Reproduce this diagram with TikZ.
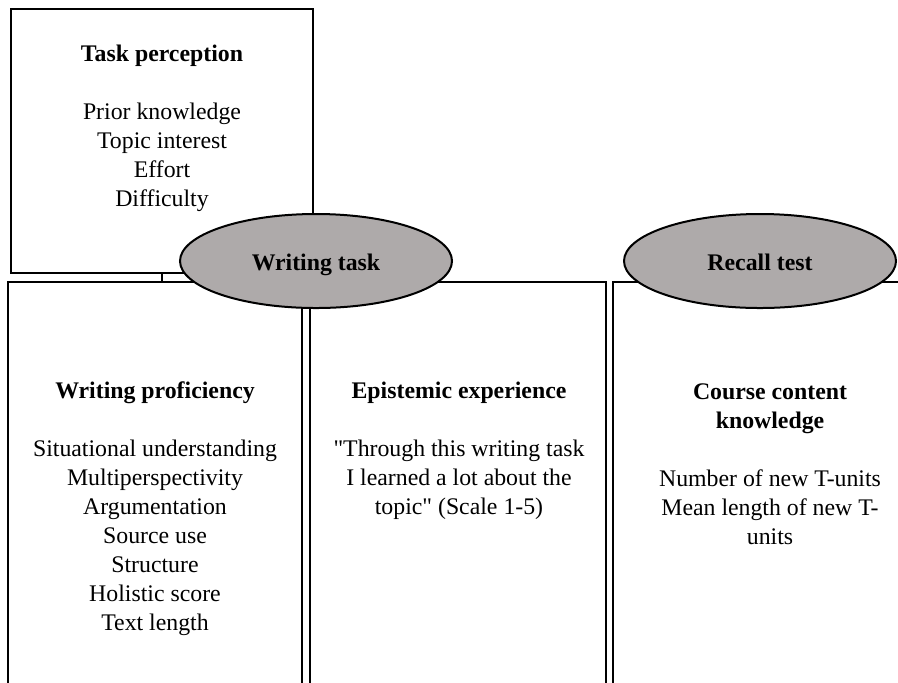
\documentclass[tikz,border=0pt]{standalone}
\usepackage{fontspec}
\setmainfont{Liberation Serif}
\usetikzlibrary{shapes.geometric}
\definecolor{ovalgray}{RGB}{174,170,170}

\begin{document}
\begin{tikzpicture}[x=0.5pt,y=-0.5pt,
    box/.style={draw,line width=1pt,rectangle,inner sep=0pt},
    oval/.style={draw,line width=1pt,ellipse,fill=ovalgray,inner sep=0pt,
        minimum width=136pt,minimum height=47pt,text height=9.5pt,text depth=0pt,
        font=\fontsize{11.9}{14.5}\selectfont\bfseries},
    boxtext/.style={align=center,font=\fontsize{11.9}{14.5}\selectfont}]
        \clip (0,0) rectangle (898,682);

        % boxes
        \node[box,minimum width=151pt,minimum height=132pt] (task) at (162,141) {};
        \node[box,minimum width=147pt,minimum height=219pt] (prof) at (155,501) {};
        \node[box,minimum width=148pt,minimum height=219pt] (epis) at (458,501) {};
        \node[box,minimum width=157pt,minimum height=219pt] (know) at (770,501) {};
        \draw[line width=1pt] (task.south) -- (task.south |- prof.north);

        % ovals
        \node[oval] (writing) at (316,261) {Writing task};
        \node[oval] (recall) at (760,261) {Recall test};

        % texts
        \node[boxtext] (tasktext) at (162,128) {\textbf{Task perception}\\[14.5pt]
            Prior knowledge\\ Topic interest\\ Effort\\ Difficulty};
        \node[boxtext] (proftext) at (155,509) {\textbf{Writing proficiency}\\[14.5pt]
            Situational understanding\\ Multiperspectivity\\ Argumentation\\
            Source use\\ Structure\\ Holistic score\\ Text length};
        \node[boxtext] (epistext) at (459,451) {\textbf{Epistemic experience}\\[14.5pt]
            \textquotedbl Through this writing task\\ I learned a lot about the\\
            topic\textquotedbl{} (Scale 1-5)};
        \node[boxtext] (knowtext) at (770,464) {\textbf{Course content}\\ \textbf{knowledge}\\[14.5pt]
            Number of new T-units\\ Mean length of new T-\\ units};
    \end{tikzpicture}
\end{document}
